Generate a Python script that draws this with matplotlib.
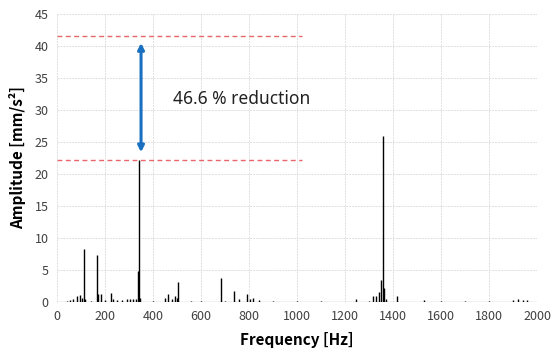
import matplotlib.pyplot as plt

# spectrum peaks (Hz, mm/s^2)
freqs = [40, 55, 68, 82, 96, 104, 112, 118, 140, 165, 170, 182, 200, 225, 235, 250, 270,
         290, 305, 318, 330, 338, 340, 345, 400, 450, 464, 478, 492, 500, 505, 560, 600,
         683, 700, 737, 760, 793, 805, 818, 840, 900, 1000, 1100, 1245, 1300, 1315, 1329,
         1340, 1350, 1358, 1363, 1370, 1415, 1530, 1600, 1700, 1800, 1900, 1921, 1940, 1960]
amps = [0.2, 0.3, 0.5, 1.0, 1.1, 0.6, 8.3, 0.4, 0.2, 7.3, 1.3, 1.2, 0.3, 1.4, 0.5, 0.3, 0.3,
        0.4, 0.4, 0.4, 0.5, 4.9, 22.2, 0.6, 0.2, 0.6, 1.2, 0.5, 1.0, 0.6, 3.1, 0.2, 0.2,
        3.75, 0.2, 1.7, 0.4, 1.2, 0.5, 0.6, 0.3, 0.2, 0.2, 0.1, 0.5, 0.2, 1.0, 1.0,
        1.6, 3.4, 26.0, 2.2, 0.4, 1.0, 0.3, 0.1, 0.1, 0.2, 0.3, 0.5, 0.3, 0.3]

before_peak = 41.6
after_peak = 22.2
reduction = (before_peak - after_peak) / before_peak * 100

plt.rcParams['font.family'] = ['Noto Sans CJK KR', 'DejaVu Sans']

fig = plt.figure(figsize=(5.52, 3.53), dpi=100)
ax = fig.add_axes([0.1033, 0.1445, 0.8697, 0.8155])

# baseline noise + peaks
ax.plot([0, 2000], [0.05, 0.05], color='black', lw=0.8)
ax.vlines(freqs, 0, amps, color='black', lw=1.0)

# reference lines and arrow
ax.hlines([before_peak, after_peak], 0, 1020, colors='#e8666a', linestyles=(0, (3.5, 2.5)), lw=1.0)
ax.annotate('', xy=(350, 40.5), xytext=(350, 23.4),
            arrowprops=dict(arrowstyle='<|-|>', color='#1a70c0', lw=2.2,
                            mutation_scale=9, shrinkA=0, shrinkB=0))
ax.text(485, 31.7, f'{reduction:.1f} % reduction', fontsize=12.5, va='center',
        color='#222222', family=['Noto Sans', 'DejaVu Sans'])

ax.set_xlim(0, 2000)
ax.set_ylim(0, 45)
ax.set_xticks(range(0, 2001, 200))
ax.set_yticks(range(0, 46, 5))
ax.grid(True, color='#e0e0e0', lw=0.7, linestyle=(0, (2, 1)))
ax.set_axisbelow(True)
for s in ax.spines.values():
    s.set_visible(False)
ax.tick_params(length=0, labelsize=9, labelcolor='#404040', pad=6)

ax.set_xlabel('Frequency [Hz]', fontsize=11, fontweight='bold', labelpad=6)
ax.set_ylabel('Amplitude [mm/s²]', fontsize=11, fontweight='bold', labelpad=6)

fig.savefig('out.png', dpi=100)
